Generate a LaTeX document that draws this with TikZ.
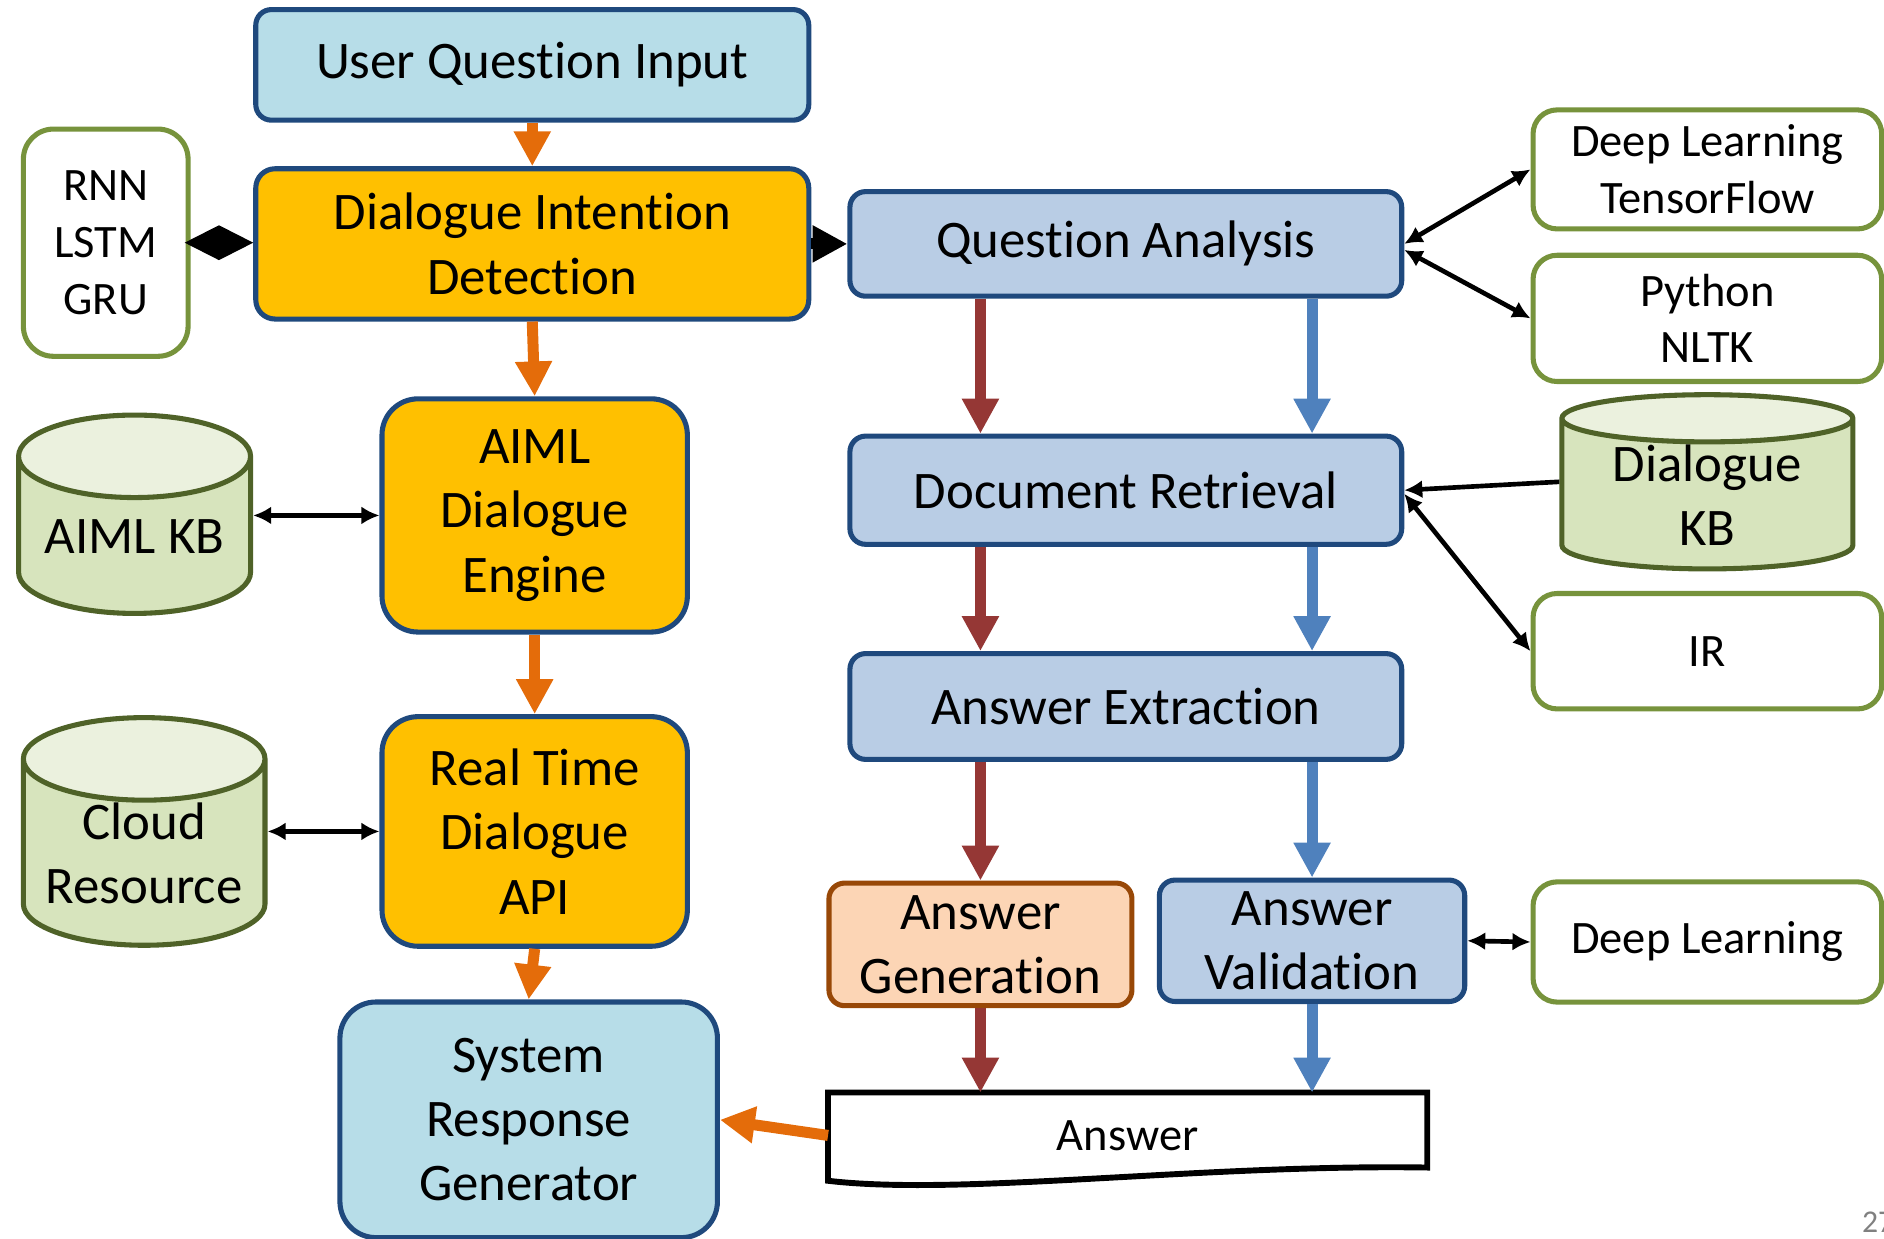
\documentclass[tikz,border=0pt]{standalone}
\usepackage{fontspec}
\setmainfont{Carlito}[Ligatures=NoCommon]
\usepackage{tikz}
\usetikzlibrary{arrows.meta,shapes.geometric,positioning}

\definecolor{dkblue}{HTML}{1F497D}
\definecolor{ltblue}{HTML}{B7DDE8}
\definecolor{steel}{HTML}{B9CDE5}
\definecolor{amber}{HTML}{FFC000}
\definecolor{peach}{HTML}{FCD5B5}
\definecolor{rust}{HTML}{984807}
\definecolor{leaf}{HTML}{77933C}
\definecolor{moss}{HTML}{4F6228}
\definecolor{sage}{HTML}{D7E4BD}
\definecolor{sagetop}{HTML}{EBF1DE}
\definecolor{orangearr}{HTML}{E46C0A}
\definecolor{redarr}{HTML}{953735}
\definecolor{bluearr}{HTML}{4F81BD}

\begin{document}
\begin{tikzpicture}[x=0.01cm,y=-0.01cm,
        box/.style={draw=dkblue,line width=1.2pt,rounded corners=0.13cm,align=center,
            font=\fontsize{12.5}{15.2}\selectfont,inner sep=0pt},
        tool/.style={draw=leaf,fill=white,line width=1.2pt,rounded corners=0.2cm,align=center,
            font=\fontsize{11}{13.4}\selectfont,minimum width=2.9cm,inner sep=0pt},
        kb/.style={cylinder,shape border rotate=90,draw=moss,line width=1.2pt,anchor=shape center,
            cylinder uses custom fill,cylinder body fill=sage,cylinder end fill=sagetop,
            align=center,font=\fontsize{12.5}{15.2}\selectfont,inner sep=0pt},
        flow/.style={line width=2.6pt,-{Triangle[length=0.29cm,width=0.29cm]}},
        link/.style={line width=1.1pt,{Latex[length=0.15cm,width=0.15cm]}-{Latex[length=0.15cm,width=0.15cm]}}]
    \useasboundingbox (0,0) rectangle (1568,1031);

    % left column
    \node [box,fill=ltblue,minimum width=4.6cm,minimum height=0.92cm] (uqi) at (443,54) {User Question Input};
    \node [box,fill=amber,minimum width=4.6cm,minimum height=1.25cm,rounded corners=0.16cm] (did) at (443,203) {Dialogue Intention\\Detection};
    \node [tool,minimum width=1.37cm,minimum height=1.89cm,rounded corners=0.25cm] (rnn) at (88,202) {RNN\\LSTM\\GRU};
    \node [box,fill=amber,minimum width=2.54cm,minimum height=1.94cm,rounded corners=0.3cm] (engine) at (445,429) {AIML\\Dialogue\\Engine};
    \node [kb,minimum width=1.93cm,minimum height=1.65cm,aspect=0.46] (aimlkb) at (112,428) {AIML KB};
    \node [box,fill=amber,minimum width=2.54cm,minimum height=1.91cm,rounded corners=0.3cm] (rtd) at (445,692) {Real Time\\Dialogue\\API};
    \node [kb,minimum width=2.01cm,minimum height=1.62cm,aspect=0.42] (cloud) at (120,692) {Cloud\\Resource};
    \node [box,fill=ltblue,minimum width=3.14cm,minimum height=1.96cm,rounded corners=0.3cm] (srg) at (440,932) {System\\Response\\Generator};

    % middle column
    \node [box,fill=steel,minimum width=4.59cm,minimum height=0.87cm] (qa) at (937,203) {Question Analysis};
    \node [box,fill=steel,minimum width=4.59cm,minimum height=0.90cm] (dr) at (937,408) {Document Retrieval};
    \node [box,fill=steel,minimum width=4.59cm,minimum height=0.88cm] (ae) at (937,588) {Answer Extraction};
    \node [box,fill=peach,draw=rust,minimum width=2.52cm,minimum height=1.02cm] (ag) at (816,786) {Answer\\Generation};
    \node [box,fill=steel,minimum width=2.54cm,minimum height=1.01cm] (av) at (1092,783) {Answer\\Validation};
    \node [minimum width=4.97cm,minimum height=0.7cm,inner sep=0pt,font=\fontsize{11}{13.4}\selectfont] (ans) at (938.5,945) {Answer};
    \draw [line width=1.4pt] (ans.north west) -- (ans.north east) -- ([yshift=0.09cm]ans.south east)
        .. controls ([xshift=-1.87cm,yshift=0.12cm]ans.south east) and ([xshift=1.1cm,yshift=-0.15cm]ans.south west)
        .. ([yshift=-0.02cm]ans.south west) -- cycle;

    % right column
    \node [tool,minimum height=0.99cm] (dltf) at (1421,141) {Deep Learning\\TensorFlow};
    \node [tool,minimum height=1.05cm] (py) at (1421,265) {Python\\NLTK};
    \node [kb,minimum width=2.42cm,minimum height=1.32cm,aspect=0.25] (dkb) at (1421,401) {Dialogue\\KB};
    \node [tool,minimum height=0.96cm] (ir) at (1421,542) {IR};
    \node [tool,minimum height=1.0cm] (dl) at (1421,784) {Deep Learning};

    \node [anchor=base west,inner sep=0pt,text=black!50,font=\fontsize{7.5}{9}\selectfont] (page) at (1549,1026) {27};

    % main flow
    \draw [flow,orangearr] (uqi.south) -- (did.north);
    \draw [flow,orangearr] (did.south) -- (engine.north);
    \draw [flow,orangearr] (engine.south) -- (rtd.north);
    \draw [flow,orangearr] (rtd.south) -- (srg.north);
    \draw [flow,orangearr] (ans.west) -- (srg.east);

    \draw [flow,redarr] (qa.south -| ag) -- (dr.north -| ag);
    \draw [flow,redarr] (dr.south -| ag) -- (ae.north -| ag);
    \draw [flow,redarr] (ae.south -| ag) -- (ag.north);
    \draw [flow,redarr] (ag.south) -- (ag.south |- ans.north);
    \draw [flow,bluearr] (qa.south -| av) -- (dr.north -| av);
    \draw [flow,bluearr] (dr.south -| av) -- (ae.north -| av);
    \draw [flow,bluearr] (ae.south -| av) -- (av.north);
    \draw [flow,bluearr] (av.south) -- (av.south |- ans.north);

    \draw [line width=1pt,-{Diamond[length=0.57cm,width=0.29cm]}] (rnn.east) -- (rnn.east -| did.west);
    \draw [line width=2.6pt,-{Triangle[length=0.29cm,width=0.29cm]}] (did.east) -- (qa.west);

    % side links
    \draw [link] (qa.east) -- (dltf.west);
    \draw [link] ([yshift=-0.05cm]qa.east) -- (py.west);
    \draw [line width=1.1pt,-{Latex[length=0.15cm,width=0.15cm]}] (dkb.shape center -| dkb.west) -- (dr.east);
    \draw [link] ([yshift=-0.03cm]dr.east) -- (ir.west);
    \draw [link] (engine.west -| aimlkb.east) -- (engine.west);
    \draw [link] (rtd.west -| cloud.east) -- (rtd.west);
    \draw [link] (av.east) -- (dl.west);
\end{tikzpicture}
\end{document}
